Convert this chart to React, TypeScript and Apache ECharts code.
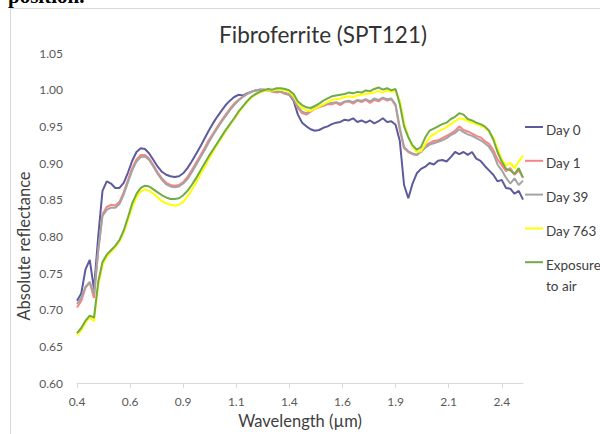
import React, { useEffect, useRef } from "react";
import * as echarts from "echarts";

const wavelengths: number[] = Array.from({ length: 106 }, (_, i) => +(0.4 + i * 0.02).toFixed(2));

const day0 = [
  0.712, 0.722, 0.755, 0.768, 0.728, 0.800, 0.862, 0.875, 0.872, 0.866,
  0.866, 0.873, 0.887, 0.903, 0.915, 0.920, 0.919, 0.913, 0.904, 0.895,
  0.888, 0.884, 0.882, 0.881, 0.882, 0.886, 0.893, 0.902, 0.912, 0.922,
  0.933, 0.944, 0.954, 0.963, 0.971, 0.979, 0.985, 0.990, 0.993, 0.992,
  0.995, 0.997, 0.999, 1.000, 1.000, 0.999, 0.999, 0.998, 0.997, 0.995,
  0.993, 0.985, 0.966, 0.955, 0.950, 0.946, 0.944, 0.945, 0.948, 0.950,
  0.953, 0.955, 0.956, 0.959, 0.958, 0.961, 0.956, 0.958, 0.955, 0.958,
  0.954, 0.957, 0.961, 0.956, 0.957, 0.952, 0.930, 0.870, 0.852, 0.872,
  0.886, 0.892, 0.895, 0.900, 0.898, 0.903, 0.904, 0.902, 0.908, 0.915,
  0.912, 0.915, 0.911, 0.915, 0.906, 0.903, 0.896, 0.890, 0.884, 0.875,
  0.877, 0.866, 0.865, 0.858, 0.862, 0.850,
];

const day1 = [
  0.703, 0.712, 0.730, 0.737, 0.716, 0.780, 0.830, 0.840, 0.843, 0.842,
  0.847, 0.860, 0.877, 0.893, 0.905, 0.911, 0.911, 0.906, 0.897, 0.887,
  0.879, 0.873, 0.870, 0.869, 0.870, 0.874, 0.881, 0.890, 0.900, 0.910,
  0.920, 0.931, 0.940, 0.949, 0.958, 0.966, 0.974, 0.981, 0.986, 0.990,
  0.994, 0.997, 0.999, 1.000, 1.000, 0.999, 0.997, 0.996, 0.997, 0.994,
  0.993, 0.987, 0.975, 0.968, 0.966, 0.970, 0.974, 0.976, 0.978, 0.980,
  0.980, 0.982, 0.979, 0.983, 0.984, 0.981, 0.985, 0.983, 0.986, 0.982,
  0.986, 0.984, 0.988, 0.985, 0.987, 0.978, 0.945, 0.920, 0.915, 0.912,
  0.911, 0.917, 0.924, 0.927, 0.930, 0.931, 0.934, 0.937, 0.940, 0.944,
  0.950, 0.945, 0.943, 0.940, 0.937, 0.935, 0.930, 0.926, 0.918, 0.905,
  0.897, 0.889, 0.893, 0.884, 0.890, 0.880,
];

const day39 = [
  0.708, 0.716, 0.731, 0.738, 0.721, 0.782, 0.828, 0.836, 0.839, 0.839,
  0.844, 0.857, 0.874, 0.890, 0.902, 0.908, 0.909, 0.904, 0.895, 0.885,
  0.877, 0.871, 0.868, 0.867, 0.868, 0.872, 0.878, 0.887, 0.897, 0.907,
  0.917, 0.928, 0.938, 0.947, 0.956, 0.964, 0.972, 0.979, 0.985, 0.990,
  0.994, 0.997, 0.999, 1.000, 1.000, 1.000, 0.998, 0.997, 0.997, 0.995,
  0.994, 0.988, 0.977, 0.970, 0.968, 0.971, 0.975, 0.977, 0.979, 0.981,
  0.982, 0.983, 0.981, 0.984, 0.985, 0.983, 0.986, 0.985, 0.987, 0.984,
  0.988, 0.986, 0.989, 0.987, 0.988, 0.980, 0.948, 0.922, 0.916, 0.913,
  0.911, 0.915, 0.921, 0.925, 0.927, 0.929, 0.931, 0.934, 0.938, 0.941,
  0.946, 0.942, 0.939, 0.937, 0.934, 0.931, 0.927, 0.922, 0.913, 0.898,
  0.890, 0.880, 0.872, 0.879, 0.870, 0.876,
];

const day763 = [
  0.665, 0.672, 0.682, 0.690, 0.684, 0.733, 0.761, 0.772, 0.779, 0.785,
  0.793, 0.805, 0.822, 0.840, 0.853, 0.861, 0.864, 0.862, 0.858, 0.853,
  0.848, 0.845, 0.843, 0.842, 0.843, 0.847, 0.854, 0.863, 0.873, 0.884,
  0.894, 0.905, 0.915, 0.925, 0.934, 0.943, 0.952, 0.960, 0.968, 0.976,
  0.983, 0.989, 0.993, 0.996, 0.998, 0.999, 0.999, 1.000, 1.000, 0.999,
  0.997, 0.991, 0.981, 0.975, 0.972, 0.971, 0.974, 0.977, 0.980, 0.983,
  0.986, 0.987, 0.988, 0.990, 0.991, 0.990, 0.992, 0.993, 0.994, 0.995,
  0.996, 0.998, 0.996, 0.999, 0.997, 0.998, 0.985, 0.955, 0.936, 0.922,
  0.915, 0.916, 0.926, 0.935, 0.939, 0.943, 0.946, 0.949, 0.953, 0.957,
  0.961, 0.960, 0.957, 0.955, 0.953, 0.951, 0.948, 0.943, 0.935, 0.920,
  0.905, 0.897, 0.900, 0.893, 0.902, 0.910,
];

const exposure = [
  0.668, 0.675, 0.685, 0.692, 0.689, 0.738, 0.765, 0.775, 0.781, 0.787,
  0.795, 0.808, 0.826, 0.845, 0.858, 0.866, 0.869, 0.868, 0.864, 0.860,
  0.856, 0.853, 0.851, 0.851, 0.852, 0.856, 0.862, 0.870, 0.879, 0.889,
  0.899, 0.909, 0.918, 0.927, 0.936, 0.945, 0.953, 0.961, 0.970, 0.977,
  0.984, 0.990, 0.994, 0.997, 0.999, 1.001, 1.000, 1.002, 1.002, 1.001,
  0.999, 0.994, 0.984, 0.979, 0.976, 0.975, 0.978, 0.981, 0.985, 0.988,
  0.991, 0.992, 0.993, 0.994, 0.996, 0.995, 0.997, 0.996, 0.999, 0.998,
  1.001, 1.003, 1.000, 1.002, 0.999, 1.001, 0.980, 0.950, 0.935, 0.924,
  0.918, 0.922, 0.935, 0.944, 0.947, 0.950, 0.953, 0.955, 0.960, 0.963,
  0.968, 0.966, 0.960, 0.958, 0.955, 0.953, 0.950, 0.944, 0.932, 0.915,
  0.902, 0.892, 0.890, 0.885, 0.893, 0.880,
];

const seriesNames = ["Day 0", "Day 1", "Day 39", "Day 763", "Exposure to air"];
const legendLabels = ["Day 0", "Day 1", "Day 39", "Day 763", "Exposure\nto air"];
const seriesColors = ["#5B5B9E", "#F98383", "#A3A3A3", "#FFFF00", "#6FAC46"];
const seriesValues = [day0, day1, day39, day763, exposure];

const xTickValues = [0.4, 0.65, 0.9, 1.15, 1.4, 1.65, 1.9, 2.15, 2.4];
const xTickLabels = ["0.4", "0.6", "0.9", "1.1", "1.4", "1.6", "1.9", "2.1", "2.4"];

const FONT = "Lato, 'Open Sans', sans-serif";

export default function App() {
  const ref = useRef<HTMLDivElement>(null);
  useEffect(() => {
    if (!ref.current) return;
    const chart = echarts.init(ref.current, null, { renderer: "svg" });

    const legendGraphics: any[] = [];
    seriesNames.forEach((name, i) => {
      const y = 127 + i * 33.8;
      legendGraphics.push({
        type: "line",
        shape: { x1: 525, y1: y, x2: 543, y2: y },
        style: { stroke: seriesColors[i], lineWidth: 2 },
      });
      legendGraphics.push({
        type: "text",
        x: 546,
        y: y - 8,
        style: {
          text: legendLabels[i],
          fill: "#404040",
          font: `13.5px ${FONT}`,
          lineHeight: 21,
          textVerticalAlign: "top",
        },
      });
    });

    chart.setOption({
      animation: false,
      backgroundColor: "#ffffff",
      textStyle: { fontFamily: FONT },
      grid: { left: 77, right: 77, top: 53, bottom: 43, containLabel: false },
      xAxis: {
        type: "value",
        min: 0.4,
        max: 2.5,
        name: "Wavelength (µm)",
        nameLocation: "middle",
        nameGap: 29,
        nameTextStyle: { fontSize: 16.5, color: "#404040", fontFamily: FONT },
        axisLine: { show: true, lineStyle: { color: "#D9D9D9", width: 1 } },
        axisTick: {
          show: true,
          inside: false,
          length: 5,
          lineStyle: { color: "#D9D9D9" },
          customValues: xTickValues,
        },
        axisLabel: {
          customValues: xTickValues,
          formatter: (v: number) => {
            const idx = xTickValues.findIndex((t) => Math.abs(t - v) < 1e-6);
            return idx >= 0 ? xTickLabels[idx] : "";
          },
          fontSize: 12,
          color: "#595959",
          margin: 12,
          fontFamily: FONT,
        },
        splitLine: { show: false },
      },
      yAxis: {
        type: "value",
        min: 0.6,
        max: 1.05,
        interval: 0.05,
        axisLine: { show: false },
        axisTick: { show: false },
        splitLine: { show: false },
        axisLabel: {
          formatter: (v: number) => v.toFixed(2),
          fontSize: 12,
          color: "#595959",
          margin: 14,
          fontFamily: FONT,
        },
      },
      graphic: [
        {
          type: "rect",
          shape: { x: 10.5, y: 8.5, width: 620, height: 460 },
          style: { fill: "none", stroke: "#D9D9D9", lineWidth: 1 },
          z: -1,
        },
        {
          type: "text",
          x: 8,
          y: -15,
          style: {
            text: "position.",
            fill: "#000000",
            font: "bold 21px 'Liberation Serif', serif",
            textVerticalAlign: "top",
          },
        },
        {
          type: "text",
          x: 323,
          y: 34,
          style: {
            text: "Fibroferrite (SPT121)",
            fill: "#333333",
            font: `22.5px ${FONT}`,
            textAlign: "center",
            textVerticalAlign: "middle",
          },
        },
        {
          type: "text",
          x: 24,
          y: 246,
          rotation: Math.PI / 2,
          style: {
            text: "Absolute reflectance",
            fill: "#404040",
            font: `16.5px ${FONT}`,
            textAlign: "center",
            textVerticalAlign: "middle",
          },
        },
        ...legendGraphics,
      ],
      series: seriesNames.map((name, i) => ({
        name,
        type: "line",
        showSymbol: false,
        symbol: "none",
        data: wavelengths.map((w, j) => [w, seriesValues[i][j]]),
        lineStyle: { color: seriesColors[i], width: 2 },
        itemStyle: { color: seriesColors[i] },
        z: 2 + i,
      })),
    });
    return () => chart.dispose();
  }, []);
  return (
    <div
      ref={ref}
      style={{ position: "fixed", left: 0, top: 0, width: 600, height: 434 }}
    />
  );
}
